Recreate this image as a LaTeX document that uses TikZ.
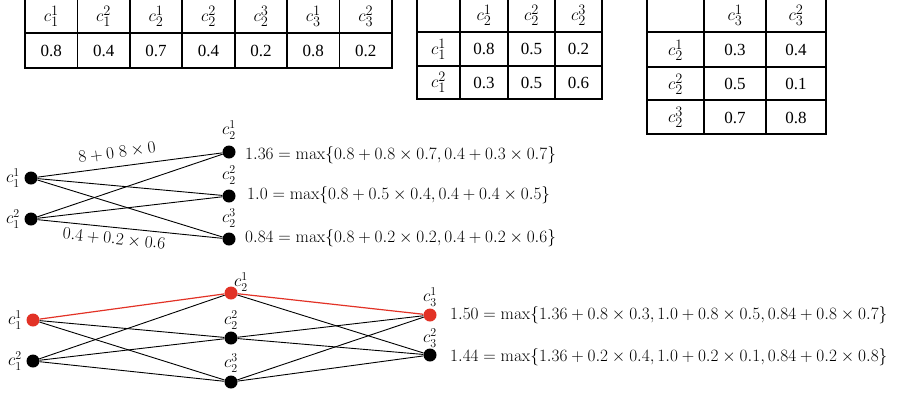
\documentclass[tikz,border=0pt]{standalone}
\usepackage[no-math]{fontspec}
\setmainfont{Liberation Serif}
\definecolor{dotred}{RGB}{226,50,38}
\begin{document}
\begin{tikzpicture}[x=1pt,y=-1pt,
  grid/.style={line width=1.8pt},
  num/.style={font=\fontsize{17}{20}\selectfont, inner sep=0pt},
  hd/.style={font=\fontsize{19}{22}\selectfont, inner sep=0pt},
  dot/.style={circle,fill=black,inner sep=0pt,minimum size=13pt},
  rdot/.style={dot,fill=dotred},
  lab/.style={font=\fontsize{17}{20}\selectfont, inner sep=0pt},
  frm/.style={font=\fontsize{17.4}{20}\selectfont, inner sep=0pt, anchor=west},
  edge/.style={line width=0.9pt},
  redge/.style={line width=1.2pt, draw=dotred}]
\useasboundingbox (0,0) rectangle (909,394);

% ---------- table 1 ----------
\foreach \i in {0,...,7} \draw[grid] ({25+52.43*\i},-5) -- ({25+52.43*\i},68);
\draw[grid] (25,33) -- (392,33);
\draw[grid] (24.1,68) -- (392.9,68);
\foreach \l/\v [count=\k from 0] in {{c_1^1}/0.8,{c_1^2}/0.4,{c_2^1}/0.7,{c_2^2}/0.4,{c_2^3}/0.2,{c_3^1}/0.8,{c_3^2}/0.2} {
  \node[hd] (ta\k) at ({51.2+52.43*\k},16) {$\l$};
  \node[num] (tb\k) at ({51.2+52.43*\k},50.5) {\v};
}

% ---------- table 2 ----------
\foreach \x in {417,460,508,555,602} \draw[grid] (\x,-5) -- (\x,99);
\foreach \y in {32,66} \draw[grid] (417,\y) -- (602,\y);
\draw[grid] (416.1,99) -- (602.9,99);
\node[hd] (ua1) at (484,15) {$c_2^1$};
\node[hd] (ua2) at (531.5,15) {$c_2^2$};
\node[hd] (ua3) at (578.5,15) {$c_2^3$};
\node[hd] (ub0) at (438.5,49) {$c_1^1$};
\node[hd] (uc0) at (438.5,82.5) {$c_1^2$};
\node[num] (ub1) at (484,49) {0.8};
\node[num] (ub2) at (531.5,49) {0.5};
\node[num] (ub3) at (578.5,49) {0.2};
\node[num] (uc1) at (484,82.5) {0.3};
\node[num] (uc2) at (531.5,82.5) {0.5};
\node[num] (uc3) at (578.5,82.5) {0.6};

% ---------- table 3 ----------
\foreach \x in {647,704,766,826} \draw[grid] (\x,-5) -- (\x,134);
\foreach \y in {32,67,100} \draw[grid] (647,\y) -- (826,\y);
\draw[grid] (646.1,134) -- (826.9,134);
\node[hd] (va1) at (735,15) {$c_3^1$};
\node[hd] (va2) at (796,15) {$c_3^2$};
\node[hd] (vb0) at (675.5,50) {$c_2^1$};
\node[hd] (vc0) at (675.5,84) {$c_2^2$};
\node[hd] (vd0) at (675.5,117.5) {$c_2^3$};
\node[num] (vb1) at (735,50) {0.3};
\node[num] (vb2) at (796,50) {0.4};
\node[num] (vc1) at (735,84) {0.5};
\node[num] (vc2) at (796,84) {0.1};
\node[num] (vd1) at (735,117.5) {0.7};
\node[num] (vd2) at (796,117.5) {0.8};

% ---------- middle graph ----------
\node[dot] (a1) at (31,178) {};
\node[dot] (a2) at (31,219) {};
\node[dot] (b1) at (229,152) {};
\node[dot] (b2) at (229,196) {};
\node[dot] (b3) at (229,239) {};
\node[lab,anchor=east] (la1) at (20,178) {$c_1^1$};
\node[lab,anchor=east] (la2) at (20,219) {$c_1^2$};
\node[lab] (lb1) at (229,130) {$c_2^1$};
\node[lab] (lb2) at (229,175) {$c_2^2$};
\node[lab] (lb3) at (229,218) {$c_2^3$};
\draw[edge] (a1) -- node[lab,sloped,above=7pt,pos=0.44] (e1lab) {$8+0\;8\times 0$} (b1);
\draw[edge] (a1) -- (b2);
\draw[edge] (a1) -- (b3);
\draw[edge] (a2) -- (b1);
\draw[edge] (a2) -- (b2);
\draw[edge] (a2) -- node[lab,sloped,below=5pt,pos=0.42] (e2lab) {$0.4+0.2\times 0.6$} (b3);
\node[frm] (f1) at (245,155) {$1.36=\max\{0.8+0.8\times 0.7,0.4+0.3\times 0.7\}$};
\node[frm] (f2) at (247,195) {$1.0=\max\{0.8+0.5\times 0.4,0.4+0.4\times 0.5\}$};
\node[frm] (f3) at (245,238) {$0.84=\max\{0.8+0.2\times 0.2,0.4+0.2\times 0.6\}$};

% ---------- bottom graph ----------
\node[rdot] (d1) at (33,320) {};
\node[dot] (d2) at (33,361) {};
\node[rdot] (e1) at (231,293) {};
\node[dot] (e2) at (231,338) {};
\node[dot] (e3) at (231,382) {};
\node[rdot] (g1) at (430,315) {};
\node[dot] (g2) at (430,355) {};
\node[lab,anchor=east] (ld1) at (22,320) {$c_1^1$};
\node[lab,anchor=east] (ld2) at (22,361) {$c_1^2$};
\node[lab] (le1) at (241,282) {$c_2^1$};
\node[lab] (le2) at (231,320) {$c_2^2$};
\node[lab] (le3) at (231,363) {$c_2^3$};
\node[lab] (lg1) at (430,297) {$c_3^1$};
\node[lab] (lg2) at (430,338) {$c_3^2$};
\draw[redge] (d1) -- (e1);
\draw[edge] (d1) -- (e2);
\draw[edge] (d1) -- (e3);
\draw[edge] (d2) -- (e1);
\draw[edge] (d2) -- (e2);
\draw[edge] (d2) -- (e3);
\draw[redge] (e1) -- (g1);
\draw[edge] (e1) -- (g2);
\draw[edge] (e2) -- (g1);
\draw[edge] (e2) -- (g2);
\draw[edge] (e3) -- (g1);
\draw[edge] (e3) -- (g2);
\node[frm] (f4) at (450,315) {$1.50=\max\{1.36+0.8\times 0.3,1.0+0.8\times 0.5,0.84+0.8\times 0.7\}$};
\node[frm] (f5) at (450,357) {$1.44=\max\{1.36+0.2\times 0.4,1.0+0.2\times 0.1,0.84+0.2\times 0.8\}$};
\end{tikzpicture}
\end{document}
